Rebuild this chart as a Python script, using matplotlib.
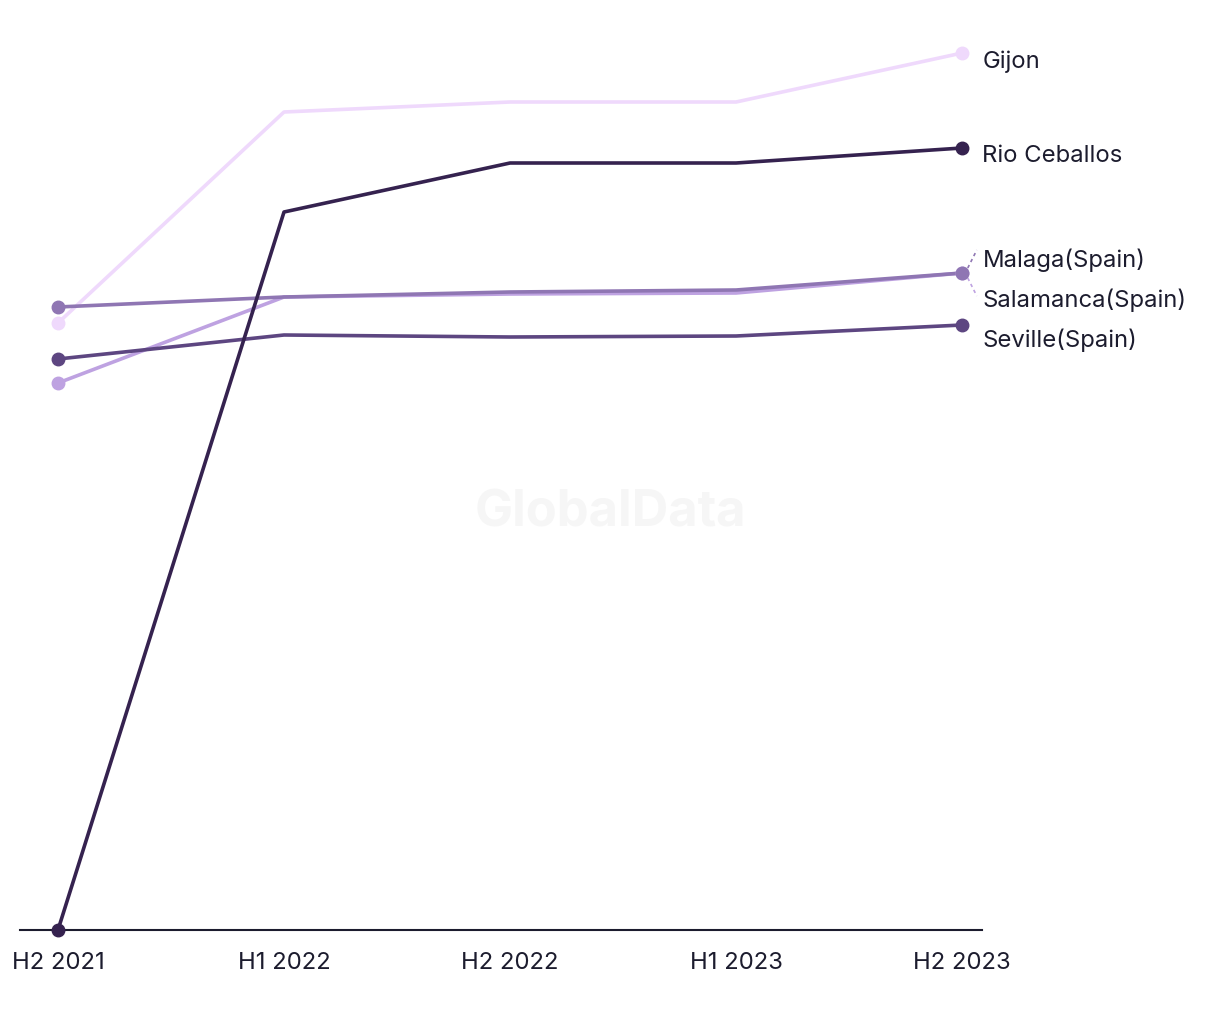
import numpy as np
import matplotlib
matplotlib.use("Agg")
import matplotlib.pyplot as plt

# ── Data ──────────────────────────────────────────────────────────────────
periods = ["H2 2021", "H1 2022", "H2 2022", "H1 2023", "H2 2023"]

gijon        = [60.7, 81.8, 82.8, 82.8, 87.7]
rio_ceballos = [0.0, 71.8, 76.7, 76.7, 78.2]
malaga       = [62.3, 63.3, 63.8, 64.0, 65.7]
salamanca    = [54.7, 63.3, 63.6, 63.7, 65.7]
seville      = [57.1, 59.5, 59.3, 59.4, 60.5]

series_names = ["Gijon", "Rio Ceballos", "Malaga(Spain)", "Salamanca(Spain)", "Seville(Spain)"]
series_vals  = [gijon, rio_ceballos, malaga, salamanca, seville]
colors       = ["#efd9fc", "#35224f", "#8f76b3", "#bea2e1", "#5d4681"]
# label vertical nudges (data units) so the stacked end labels don't collide
label_nudge  = [-0.8, -0.7, 1.4, -2.6, -1.4]

plt.rcParams["font.family"] = ["Inter", "DejaVu Sans"]

fig = plt.figure(figsize=(12.2, 10.2), dpi=100)
ax = fig.add_axes([20 / 1220, 89 / 1020, 962 / 1220, 900 / 1020])
x = np.arange(len(periods))

# watermark
fig.text(0.5, 0.497, "GlobalData", ha="center", va="center", fontsize=36.5,
         fontweight="bold", color="#f6f6f6", zorder=0)

draw_order = [0, 3, 2, 4, 1]
for i in draw_order:
    ax.plot(x, series_vals[i], color=colors[i], linewidth=2.6,
            solid_capstyle="round", zorder=3)
    ax.plot([x[0], x[-1]], [series_vals[i][0], series_vals[i][-1]], "o",
            color=colors[i], markersize=9, zorder=4, clip_on=False)

# end labels
for i, name in enumerate(series_names):
    y_end = series_vals[i][-1]
    y_lab = y_end + label_nudge[i]
    ax.text(x[-1] + 0.09, y_lab, name, ha="left", va="center",
            fontsize=17.2, color="#1c1c2e", clip_on=False)
    if name in ("Malaga(Spain)", "Salamanca(Spain)"):
        sign = 1 if label_nudge[i] > 0 else -1
        ax.plot([x[-1] + 0.025, x[-1] + 0.065],
                [y_end + sign * 0.5, y_end + sign * 2.3],
                color=colors[i], linewidth=1.2, linestyle=(0, (2, 2)),
                clip_on=False, zorder=2)

ax.set_xlim(-0.168, 4.088)
ax.set_ylim(0, 90)
ax.set_xticks(x)
ax.set_xticklabels(periods, fontsize=17.2, color="#1c1c2e")
ax.tick_params(axis="x", length=0, pad=15)
ax.set_yticks([])
for side in ("top", "right", "left"):
    ax.spines[side].set_visible(False)
ax.spines["bottom"].set_color("#1c1c2e")
ax.spines["bottom"].set_linewidth(1.5)
ax.patch.set_alpha(0)

fig.savefig("out.png", dpi=100)
